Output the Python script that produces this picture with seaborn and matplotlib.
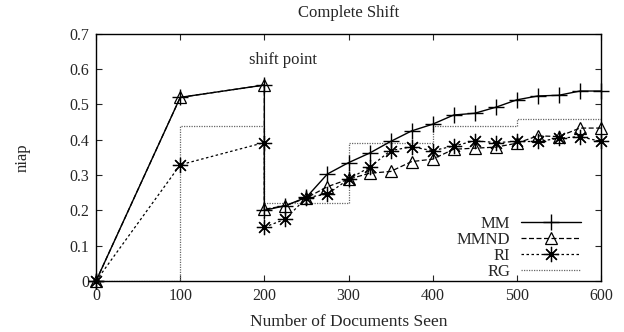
import matplotlib
matplotlib.use("Agg")
import matplotlib.pyplot as plt
import seaborn as sns
import pandas as pd

# ---- data ----
x_main = [0, 100, 200, 200, 225, 250, 275, 300, 325, 350, 375, 400,
          425, 450, 475, 500, 525, 550, 575, 600]
mm = [0, 0.52, 0.555, 0.200, 0.213, 0.237, 0.303, 0.335, 0.362, 0.395, 0.425,
      0.444, 0.470, 0.475, 0.492, 0.513, 0.524, 0.526, 0.538, 0.538]
mmnd = [0, 0.52, 0.555, 0.203, 0.213, 0.235, 0.267, 0.288, 0.305, 0.310, 0.338,
        0.345, 0.373, 0.376, 0.379, 0.390, 0.411, 0.409, 0.433, 0.433]
ri = [0, 0.329, 0.392, 0.152, 0.175, 0.236, 0.246, 0.288, 0.322, 0.369, 0.380,
      0.369, 0.382, 0.397, 0.392, 0.395, 0.395, 0.404, 0.409, 0.395]
rg_x = [0, 100, 200, 300, 400, 500, 600]
rg = [0, 0.44, 0.22, 0.39, 0.44, 0.46, 0.46]

x_ticks = [0, 100, 200, 300, 400, 500, 600]
y_ticks = [0, 0.1, 0.2, 0.3, 0.4, 0.5, 0.6, 0.7]
y_tick_labels = ["0", "0.1", "0.2", "0.3", "0.4", "0.5", "0.6", "0.7"]

title = "Complete Shift"
x_label = "Number of Documents Seen"
y_label = "niap"
annotation = "shift point"

# ---- style ----
sns.set_style("ticks")
plt.rcParams["font.family"] = ["Liberation Serif", "DejaVu Serif"]
plt.rcParams["font.size"] = 11

fig = plt.figure(figsize=(6.24, 3.32), dpi=100)
ax = fig.add_axes([0.154, 0.154, 0.809, 0.744])

df_main = pd.DataFrame({"x": x_main, "MM": mm, "MMND": mmnd, "RI": ri})
df_rg = pd.DataFrame({"x": rg_x, "RG": rg})

common = dict(ax=ax, sort=False, estimator=None, color="black", clip_on=False,
              zorder=3)
sns.lineplot(data=df_main, x="x", y="MM", lw=1.0, marker="+", markersize=11,
             markeredgewidth=1.0, markeredgecolor="black", label="MM", **common)
sns.lineplot(data=df_main, x="x", y="MMND", lw=0.9, linestyle=(0, (4, 2)),
             marker="^", markersize=9, markeredgewidth=0.9,
             markerfacecolor="none", markeredgecolor="black", label="MMND",
             **common)
sns.lineplot(data=df_main, x="x", y="RI", lw=0.9, linestyle=(0, (2, 2)),
             marker=(8, 2, 0), markersize=11, markeredgewidth=0.9,
             markeredgecolor="black", label="RI", **common)
sns.lineplot(data=df_rg, x="x", y="RG", ax=ax, sort=False, estimator=None,
             color="#666666", lw=0.9, linestyle=(0, (1, 1)),
             drawstyle="steps-post", label="RG")

ax.set_xlim(0, 600)
ax.set_ylim(0, 0.7)
ax.set_xticks(x_ticks)
ax.set_yticks(y_ticks)
ax.set_yticklabels(y_tick_labels)
ax.tick_params(direction="in", top=True, right=True, length=4, width=0.8,
               labelsize=11.5, pad=5)
for s in ax.spines.values():
    s.set_linewidth(1.0)
    s.set_color("black")

ax.set_title(title, fontsize=12, pad=12)
ax.set_xlabel(x_label, fontsize=12.5, labelpad=7)
ax.set_ylabel(y_label, fontsize=12, labelpad=28)
ax.text(222, 0.625, annotation, ha="center", va="center", fontsize=12)

leg = ax.legend(loc="lower right", bbox_to_anchor=(0.986, -0.049),
                frameon=False, markerfirst=False,
                handlelength=3.6, fontsize=12, labelspacing=0.0,
                borderaxespad=0.4, handletextpad=0.6)
for col in leg._legend_handle_box.get_children():
    col.align = "right"

fig.savefig("out.png", dpi=100)
